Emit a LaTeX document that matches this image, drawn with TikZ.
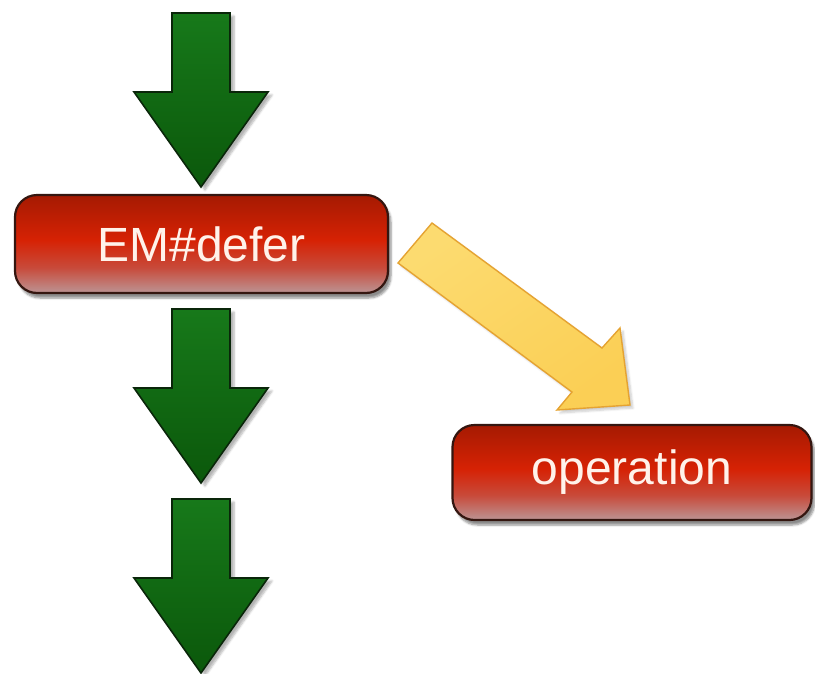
\documentclass[tikz,border=0pt]{standalone}
\usepackage{fontspec}
\setmainfont{Liberation Sans}
\usetikzlibrary{shadows.blur}

\definecolor{rtop}{HTML}{A51A02}
\definecolor{rmid}{HTML}{D62204}
\definecolor{rlow}{HTML}{C84A3A}
\definecolor{rbot}{HTML}{BC9494}
\definecolor{gtop}{HTML}{17791A}
\definecolor{gbot}{HTML}{0B580B}
\definecolor{gedge}{HTML}{0A260A}
\definecolor{yfill}{HTML}{FBCF55}
\definecolor{ylight}{HTML}{FCDB70}
\definecolor{yedge}{HTML}{E5A332}
\definecolor{boxedge}{HTML}{341610}
\definecolor{labeltext}{HTML}{FFF2EA}

% glossy red band: dark top, bright middle, greyish-pink bottom
\pgfdeclareverticalshading{redband}{100bp}{%
  color(0bp)=(rbot); color(25bp)=(rbot); color(38bp)=(rlow);
  color(52bp)=(rmid); color(75bp)=(rtop); color(100bp)=(rtop)}

\tikzset{
  stepbox/.style={draw=boxedge, line width=2.2pt, rounded corners=22pt,
    shading=redband, text=labeltext,
    font=\fontsize{48}{56}\selectfont, inner sep=0pt,
    blur shadow={shadow xshift=3pt, shadow yshift=-5pt,
      shadow blur steps=6, shadow opacity=45}},
  flowarrow/.style={draw=gedge, line width=1.6pt, line join=miter,
    top color=gtop, bottom color=gbot,
    blur shadow={shadow xshift=4pt, shadow yshift=-3pt,
      shadow blur steps=6, shadow opacity=30}},
  sidearrow/.style={draw=yedge, line width=1.4pt, line join=miter,
    top color=ylight, bottom color=yfill, shading angle=35,
    blur shadow={shadow xshift=3pt, shadow yshift=-3pt,
      shadow blur steps=6, shadow opacity=20}},
  pics/downarrow/.style={code={
    \path[flowarrow] (-29,0) -- (29,0) -- (29,79) -- (67,79) -- (0,174)
      -- (-67,79) -- (-29,79) -- cycle;}}
}

\begin{document}
\begin{tikzpicture}[x=1pt, y=-1pt]
  \useasboundingbox (0,0) rectangle (815,673);

  % vertical flow
  \pic at (201,13) {downarrow};
  \pic at (201,309) {downarrow};
  \pic at (201,499) {downarrow};

  % boxes
  \node[stepbox, minimum width=373pt, minimum height=98pt] (defer) at (201.5,244) {EM\#defer};
  \node[stepbox, minimum width=359pt, minimum height=95pt] (op) at (632,472.5) {operation};

  % hand-off to the operation
  \path[sidearrow] (432,223) -- (602,348) -- (620,328) -- (630,405)
    -- (557,410) -- (572,392) -- (398,263) -- cycle;
\end{tikzpicture}
\end{document}
